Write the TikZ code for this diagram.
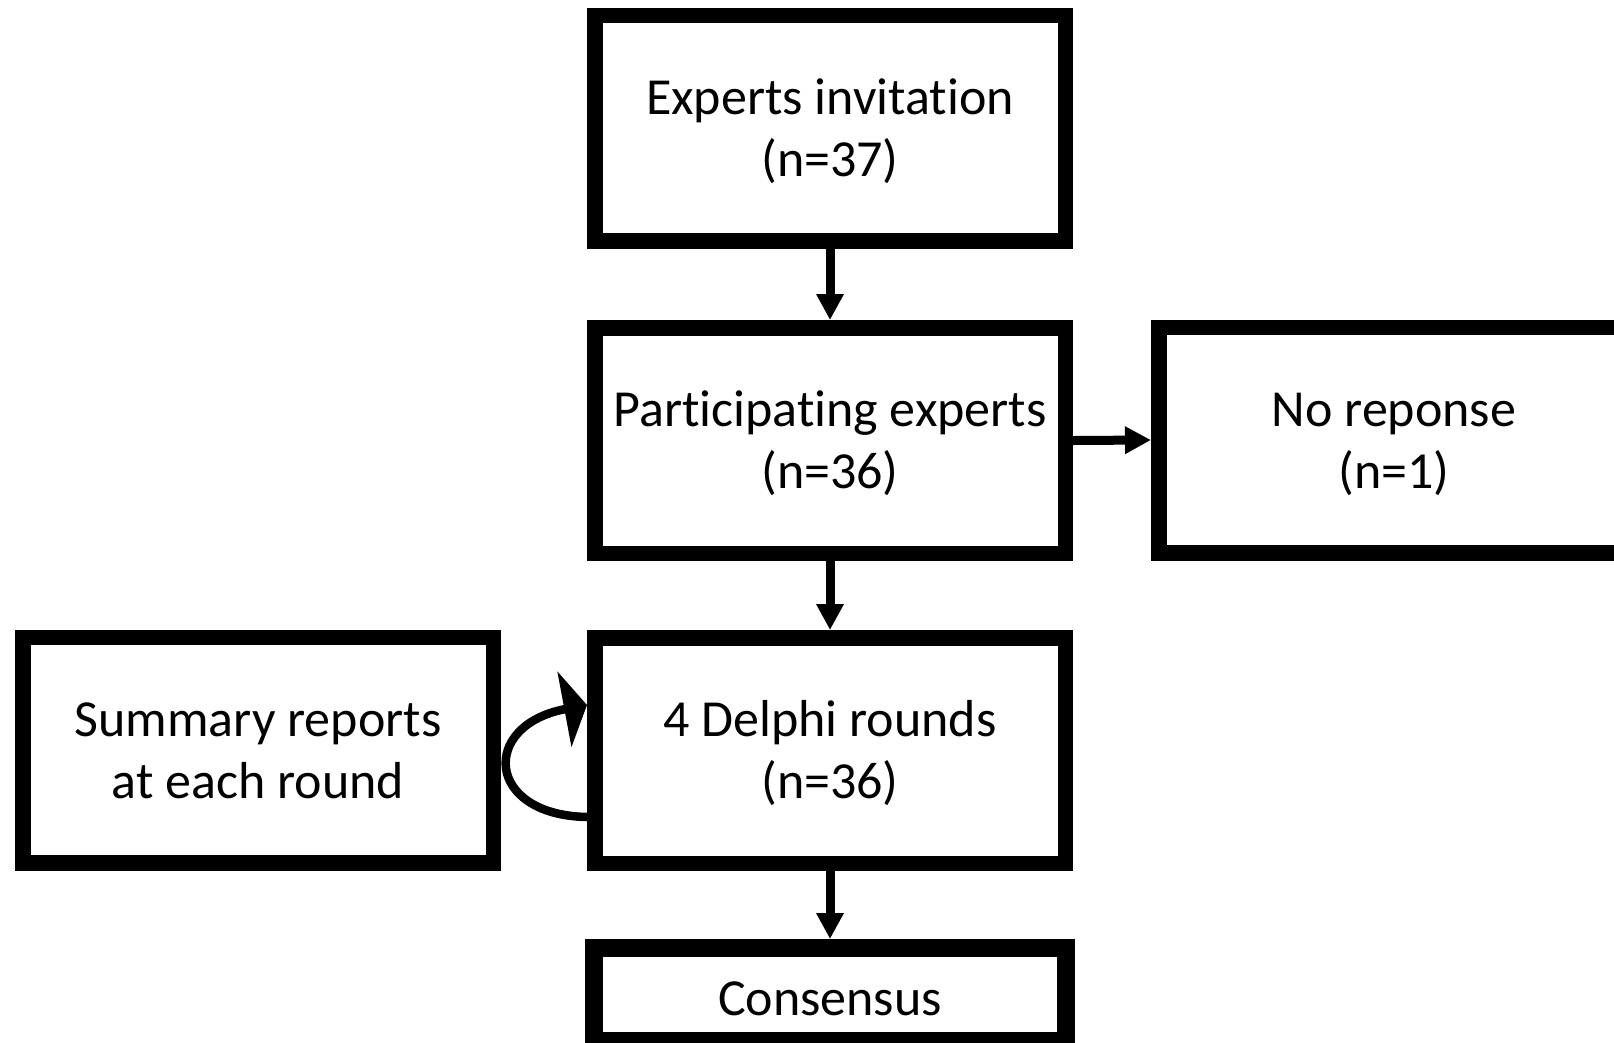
\documentclass[tikz,border=0pt]{standalone}
\usepackage{fontspec}
\setmainfont{Carlito}[Ligatures={NoCommon}]
\usetikzlibrary{arrows.meta,calc}
\newcommand{\topstrut}{\rule{0pt}{46pt}}
\newcommand{\botstrut}{\rule[-12pt]{0pt}{12pt}}
\begin{document}
\begin{tikzpicture}[x=1pt,y=-1pt,
  box/.style={draw=black, line width=15.5pt, minimum width=470.5pt, minimum height=225.5pt,
    align=center, inner sep=0pt, font=\fontsize{52}{62}\selectfont},
  flow/.style={line width=9pt, -{Triangle[width=26pt,length=26pt]}},
  loop/.style={line width=8.5pt, -{Triangle[width=76pt,length=23pt]}}]
\useasboundingbox (0,0) rectangle (1614,1042);
\clip (0,0) rectangle (1614,1042);
\fill[white] (0,0) rectangle (1614,1042);
\node[box] (b1) at (830,128) {\topstrut Experts invitation\\(n=37)\botstrut};
\node[box] (b2) at (830,440.5) {\topstrut Participating experts\\(n=36)\botstrut};
\node[box] (nr) at (1394,440) {\topstrut No reponse\\(n=1)\botstrut};
\node[box] (b3) at (830,750.5) {\topstrut 4 Delphi rounds\\(n=36)\botstrut};
\node[box] (sr) at (258,750) {\topstrut Summary reports\\at each round\botstrut};
\node[box, line width=18pt, minimum width=472pt, minimum height=93pt] (cs) at (830,994.5) {\rule{0pt}{54pt}Consensus\botstrut};
\draw[flow] (b1.south) -- (b2.north);
\draw[flow] (b2.east) -- (nr.west);
\draw[flow] (b2.south) -- (b3.north);
\draw[flow] (b3.south) -- (cs.north);
\draw[loop] ($(b3.west)+(0,66.5)$) .. controls +(-102,-2) and +(-107,20) .. ($(b3.west)+(0,-45.5)$);
\end{tikzpicture}
\end{document}
